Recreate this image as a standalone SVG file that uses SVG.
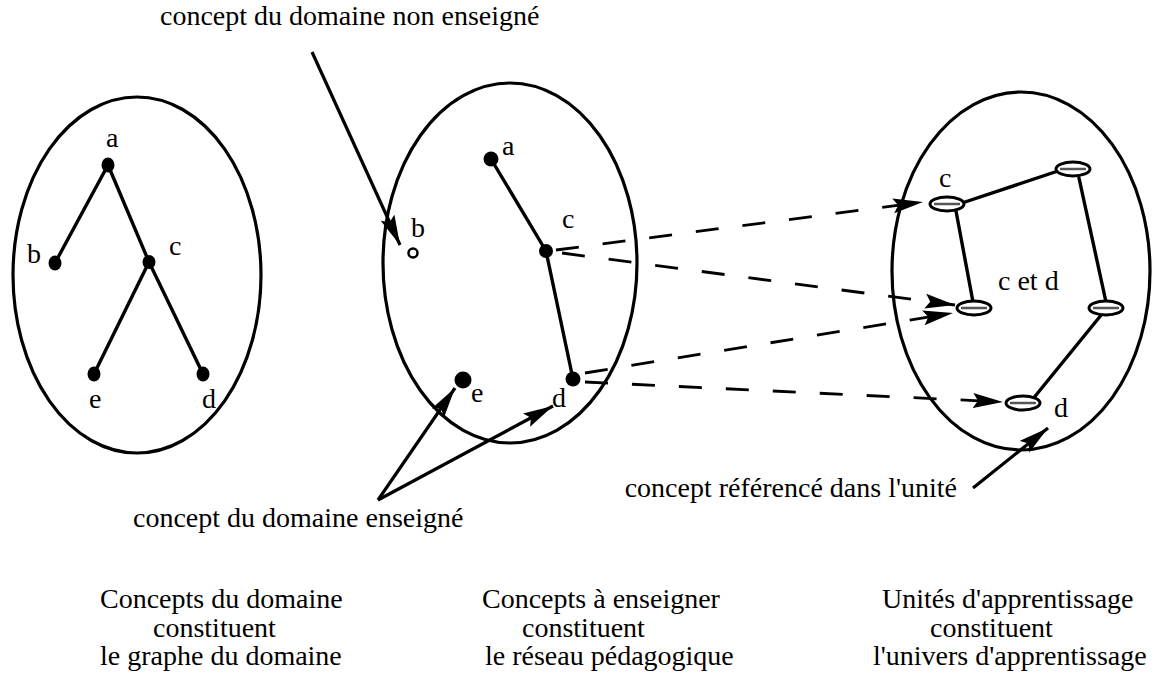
<svg xmlns="http://www.w3.org/2000/svg" width="1174" height="678" viewBox="0 0 1174 678">
<style>
  .t { font-family: "Liberation Serif", "Times New Roman", serif; font-size: 28px; fill: #000; }
  .frame { fill: none; stroke: #000; stroke-width: 3.2; }
  .edge { stroke: #000; stroke-width: 3.4; stroke-linecap: round; fill: none; }
  .dot { fill: #000; }
  .unit { fill: #fff; stroke: #000; stroke-width: 3; }
  .stripe { stroke: #555; stroke-width: 2.5; }
  .dash { stroke: #000; stroke-width: 2.8; fill: none; stroke-dasharray: 23 24; }
  .ptr { stroke: #000; stroke-width: 3.2; fill: none; }
</style>
<defs>
  <marker id="ah" viewBox="0 0 30 16" refX="30" refY="8" markerWidth="30" markerHeight="16" markerUnits="userSpaceOnUse" orient="auto">
    <path d="M0,0.5 L30,8 L0,15.5 L5,8 z" fill="#000"/>
  </marker>
</defs>
<rect width="1174" height="678" fill="#fff"/>

<g id="frames">
  <ellipse class="frame" cx="137" cy="275" rx="124" ry="178"/>
  <ellipse class="frame" cx="510" cy="263" rx="127" ry="180"/>
  <ellipse class="frame" cx="1021" cy="271" rx="129" ry="179"/>
</g>

<g id="connectors">
  <line class="edge" x1="108" y1="165" x2="55" y2="263"/>
  <line class="edge" x1="108" y1="165" x2="149" y2="262"/>
  <line class="edge" x1="149" y1="262" x2="94" y2="374"/>
  <line class="edge" x1="149" y1="262" x2="203" y2="374"/>
  <line class="edge" x1="491" y1="159" x2="546" y2="251"/>
  <line class="edge" x1="546" y1="251" x2="573" y2="379"/>
  <line class="edge" x1="962" y1="203" x2="1058" y2="171"/>
  <line class="edge" x1="956" y1="211" x2="973" y2="302"/>
  <line class="edge" x1="1079" y1="178" x2="1106" y2="302"/>
  <line class="edge" x1="1102" y1="314" x2="1032" y2="400"/>
  <line class="dash" x1="556" y1="250" x2="923" y2="202" marker-end="url(#ah)"/>
  <line class="dash" x1="562" y1="253" x2="955" y2="305" marker-end="url(#ah)"/>
  <line class="dash" x1="585" y1="373" x2="953" y2="313" marker-end="url(#ah)"/>
  <line class="dash" x1="585" y1="382" x2="1003" y2="402" marker-end="url(#ah)"/>
  <line class="ptr" x1="312" y1="52" x2="400" y2="245" marker-end="url(#ah)"/>
  <line class="ptr" x1="378" y1="500" x2="455" y2="388" marker-end="url(#ah)"/>
  <line class="ptr" x1="378" y1="500" x2="553" y2="406" marker-end="url(#ah)"/>
  <line class="ptr" x1="973" y1="488" x2="1048" y2="428" marker-end="url(#ah)"/>
</g>

<g id="L-a"><ellipse class="dot" cx="108" cy="165" rx="6.5" ry="7.5"/><text class="t" x="106" y="147">a</text></g>
<g id="L-b"><ellipse class="dot" cx="55" cy="263" rx="6.5" ry="7.5"/><text class="t" x="27" y="263">b</text></g>
<g id="L-c"><ellipse class="dot" cx="149" cy="262" rx="6.5" ry="7"/><text class="t" x="169" y="255">c</text></g>
<g id="L-e"><ellipse class="dot" cx="94" cy="374" rx="6.5" ry="7.5"/><text class="t" x="89" y="408">e</text></g>
<g id="L-d"><ellipse class="dot" cx="203" cy="374" rx="6.5" ry="7.5"/><text class="t" x="202" y="408">d</text></g>

<g id="M-a"><circle class="dot" cx="491" cy="159" r="7.5"/><text class="t" x="502" y="155">a</text></g>
<g id="M-b"><circle cx="413" cy="253" r="4.5" fill="#fff" stroke="#000" stroke-width="2.5"/><text class="t" x="411" y="237">b</text></g>
<g id="M-c"><circle class="dot" cx="546" cy="251" r="7"/><text class="t" x="562" y="228">c</text></g>
<g id="M-e"><circle class="dot" cx="463" cy="380" r="8.5"/><text class="t" x="471" y="402">e</text></g>
<g id="M-d"><circle class="dot" cx="573" cy="379" r="7.5"/><text class="t" x="552" y="407">d</text></g>

<g id="U-c"><ellipse class="unit" cx="947" cy="204" rx="17" ry="7"/><line class="stripe" x1="934" y1="204" x2="960" y2="204"/><text class="t" x="939" y="187">c</text></g>
<g id="U-top"><ellipse class="unit" cx="1073" cy="169" rx="17" ry="7"/><line class="stripe" x1="1060" y1="169" x2="1086" y2="169"/></g>
<g id="U-cd"><ellipse class="unit" cx="974" cy="308" rx="17" ry="7"/><line class="stripe" x1="961" y1="308" x2="987" y2="308"/><text class="t" x="998" y="290">c et d</text></g>
<g id="U-right"><ellipse class="unit" cx="1106" cy="308" rx="17" ry="7"/><line class="stripe" x1="1093" y1="308" x2="1119" y2="308"/></g>
<g id="U-d"><ellipse class="unit" cx="1023" cy="403" rx="17" ry="7"/><line class="stripe" x1="1010" y1="403" x2="1036" y2="403"/><text class="t" x="1054" y="417">d</text></g>

<g id="annotations">
  <text class="t" x="160" y="25">concept du domaine non enseigné</text>
  <text class="t" x="133" y="527">concept du domaine enseigné</text>
  <text class="t" x="957" y="497" text-anchor="end">concept référencé dans l'unité</text>
</g>

<g id="captions">
  <text class="t" x="100" y="608">Concepts du domaine</text>
  <text class="t" x="153" y="637">constituent</text>
  <text class="t" x="100" y="665">le graphe du domaine</text>
  <text class="t" x="482" y="608">Concepts à enseigner</text>
  <text class="t" x="522" y="637">constituent</text>
  <text class="t" x="485" y="665">le réseau pédagogique</text>
  <text class="t" x="882" y="608">Unités d'apprentissage</text>
  <text class="t" x="930" y="637">constituent</text>
  <text class="t" x="873" y="665">l'univers d'apprentissage</text>
</g>
</svg>
